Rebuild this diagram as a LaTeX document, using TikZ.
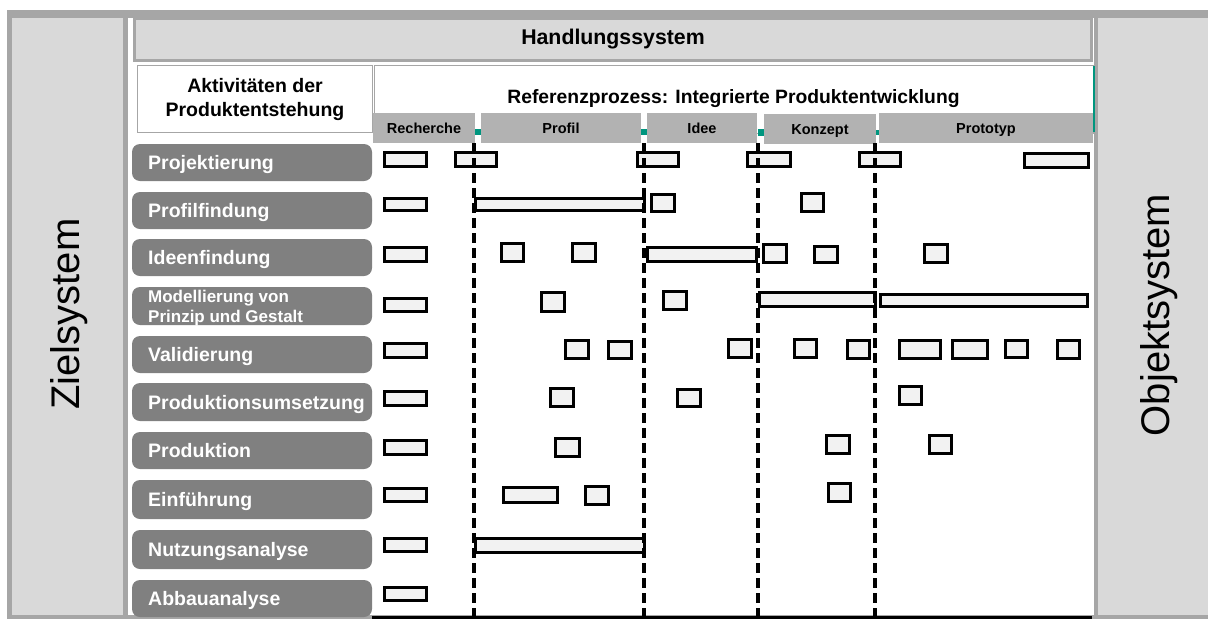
\documentclass[tikz,border=0pt]{standalone}
\usepackage{fontspec}
\setmainfont{Liberation Sans}
\definecolor{framegray}{HTML}{A6A6A6}
\definecolor{panelgray}{HTML}{D9D9D9}
\definecolor{labelgray}{HTML}{808080}
\definecolor{phasegray}{HTML}{B2B2B2}
\definecolor{boxfill}{HTML}{F2F2F2}
\definecolor{tealmark}{HTML}{00967F}
\newcommand\actbox[5]{\node[actbox, minimum width={#4-#2-2.8}, minimum height={#5-#3-2.8}] (#1) at ({(#2+#4)/2},{(#3+#5)/2}) {};}
\begin{document}
\begin{tikzpicture}[x=1pt,y=-1pt,
  actbox/.style={rectangle, draw=black, fill=boxfill, line width=2.8pt, inner sep=0pt, outer sep=0pt},
  rowbox/.style={rectangle, rounded corners=8pt, fill=labelgray, minimum width=240pt, minimum height=37pt, inner sep=0pt, outer sep=0pt},
  rowtext/.style={anchor=base west, inner sep=0pt, text=white, font=\bfseries\fontsize{19.5}{22}\selectfont},
  rowsmall/.style={anchor=base west, inner sep=0pt, text=white, font=\bfseries\fontsize{17}{20}\selectfont},
  phasebox/.style={rectangle, fill=phasegray, minimum height=30pt, inner sep=0pt, outer sep=0pt, text height=10.4pt, text depth=0pt, font=\bfseries\fontsize{14.5}{17}\selectfont},
  phaseline/.style={line width=3.4pt, dash pattern=on 10pt off 5pt},
  sidetext/.style={rotate=90, font=\fontsize{40}{48}\selectfont},
]
\useasboundingbox (0,0) rectangle (1208,619);
\fill[white] (0,0) rectangle (1208,619);

% outer frame and the three panels
\fill[framegray] (7,10) rectangle (1208,619);
\fill[panelgray] (12,18) rectangle (123,615);
\fill[white] (128,18) rectangle (1094,615);
\fill[panelgray] (1098,18) rectangle (1208,615);

% Handlungssystem bar
\node[rectangle, fill=panelgray, draw=framegray, line width=3pt, minimum width=957pt, minimum height=42pt, inner sep=0pt, outer sep=0pt,
      font=\bfseries\fontsize{21.3}{24}\selectfont] (handlung) at (613,39.5) {Handlungssystem};

% side labels
\node[sidetext] (ziel) at (69,314) {Zielsystem};
\node[sidetext] (objekt) at (1159,315) {Objektsystem};

% header boxes
\node[rectangle, draw=framegray, line width=1pt, fill=white, minimum width=235pt, minimum height=67pt, inner sep=0pt] (aktbox) at (255,99) {};
\node[align=center, font=\bfseries\fontsize{19.5}{24}\selectfont, inner sep=0pt] (akttext) at (255,99) {Aktivitäten der\\Produktentstehung};
\node[rectangle, draw=framegray, line width=1pt, fill=white, minimum width=719pt, minimum height=68pt, inner sep=0pt] (refbox) at (733.5,99) {};
\draw[tealmark, line width=2pt] (1094,66) -- (1094,132);
\node[anchor=base, inner sep=0pt, font=\bfseries\fontsize{19.3}{22}\selectfont] (reftext) at (733.5,103) {Referenzprozess: Integrierte Produktentwicklung};

% phase headers
\node[phasebox, minimum width=102pt] (recherche) at (424,128) {Recherche};
\node[phasebox, minimum width=160pt] (profil) at (561,128) {Profil};
\node[phasebox, minimum width=110pt] (idee) at (702,128) {Idee};
\node[phasebox, minimum width=112pt] (konzept) at (820,129) {Konzept};
\node[phasebox, minimum width=214pt] (prototyp) at (986,128) {Prototyp};
\fill[tealmark] (475,129) rectangle (481,135);
\fill[tealmark] (641,129) rectangle (647,135);
\fill[tealmark] (757.5,129) rectangle (764,136);
\fill[tealmark] (876,130) rectangle (879,135);

% activity labels
\node[rowbox] (r1) at (252,162.5) {};
\node[rowbox] (r2) at (252,210.5) {};
\node[rowbox] (r3) at (252,257.5) {};
\node[rowbox, minimum height=38pt] (r4) at (252,306) {};
\node[rowbox] (r5) at (252,354.5) {};
\node[rowbox, minimum height=38pt] (r6) at (252,402) {};
\node[rowbox] (r7) at (252,450.5) {};
\node[rowbox, minimum height=39pt] (r8) at (252,499.5) {};
\node[rowbox, minimum height=39pt] (r9) at (252,549.5) {};
\node[rowbox] (r10) at (252,598.5) {};
\node[rowtext] (t1) at ([xshift=16pt,yshift=-7pt]r1.west) {Projektierung};
\node[rowtext] (t2) at ([xshift=16pt,yshift=-7pt]r2.west) {Profilfindung};
\node[rowtext] (t3) at ([xshift=16pt,yshift=-7pt]r3.west) {Ideenfindung};
\node[rowsmall] (t4a) at ([xshift=16pt,yshift=4pt]r4.west) {Modellierung von};
\node[rowsmall] (t4b) at ([xshift=16pt,yshift=-16pt]r4.west) {Prinzip und Gestalt};
\node[rowtext] (t5) at ([xshift=16pt,yshift=-7pt]r5.west) {Validierung};
\node[rowtext] (t6) at ([xshift=16pt,yshift=-7pt]r6.west) {Produktionsumsetzung};
\node[rowtext] (t7) at ([xshift=16pt,yshift=-7pt]r7.west) {Produktion};
\node[rowtext] (t8) at ([xshift=16pt,yshift=-7pt]r8.west) {Einführung};
\node[rowtext] (t9) at ([xshift=16pt,yshift=-7pt]r9.west) {Nutzungsanalyse};
\node[rowtext] (t10) at ([xshift=16pt,yshift=-7pt]r10.west) {Abbauanalyse};

% activity boxes, row by row
\actbox{a1a}{383}{151}{428}{168}
\actbox{a1b}{454}{151}{498}{168}
\actbox{a1c}{636}{151}{680}{168}
\actbox{a1d}{746}{151}{792}{168}
\actbox{a1e}{858}{151}{902}{168}
\actbox{a1f}{1023}{152}{1090}{169}

\actbox{a2a}{383}{197}{428}{212}
\actbox{a2b}{474}{197}{646}{212}
\actbox{a2c}{650}{193}{676}{213}
\actbox{a2d}{800}{192}{825}{213}

\actbox{a3a}{383}{246}{428}{263}
\actbox{a3b}{500}{242}{525}{263}
\actbox{a3c}{571}{242}{597}{263}
\actbox{a3d}{646}{246}{758}{263}
\actbox{a3e}{762}{243}{788}{264}
\actbox{a3f}{813}{245}{839}{264}
\actbox{a3g}{923}{243}{949}{264}

\actbox{a4a}{383}{297}{428}{313}
\actbox{a4b}{540}{291}{566}{313}
\actbox{a4c}{662}{290}{688}{311}
\actbox{a4d}{758}{291}{877}{308}
\actbox{a4e}{879}{293}{1089}{308}

\actbox{a5a}{383}{342}{428}{359}
\actbox{a5b}{564}{339}{590}{360}
\actbox{a5c}{607}{340}{633}{360}
\actbox{a5d}{727}{338}{753}{359}
\actbox{a5e}{793}{338}{818}{359}
\actbox{a5f}{846}{339}{871}{360}
\actbox{a5g}{898}{339}{942}{360}
\actbox{a5h}{951}{339}{989}{360}
\actbox{a5i}{1004}{339}{1029}{359}
\actbox{a5j}{1056}{339}{1081}{360}

\actbox{a6a}{383}{390}{428}{407}
\actbox{a6b}{549}{387}{575}{408}
\actbox{a6c}{676}{388}{702}{408}
\actbox{a6d}{898}{385}{923}{406}

\actbox{a7a}{383}{439}{428}{456}
\actbox{a7b}{554}{437}{581}{458}
\actbox{a7c}{825}{434}{851}{455}
\actbox{a7d}{928}{434}{953}{455}

\actbox{a8a}{383}{487}{428}{503}
\actbox{a8b}{502}{486}{559}{504}
\actbox{a8c}{584}{485}{610}{506}
\actbox{a8d}{827}{482}{852}{503}

\actbox{a9a}{383}{537}{428}{553}
\actbox{a9b}{474}{537}{646}{554}

\actbox{a10a}{383}{586}{428}{602}

% phase boundaries
\coordinate (p1t) at (474,143); \coordinate (p1b) at (474,616);
\coordinate (p2t) at (644,143); \coordinate (p2b) at (644,616);
\coordinate (p3t) at (758,143); \coordinate (p3b) at (758,616);
\coordinate (p4t) at (875,143); \coordinate (p4b) at (875,616);
\draw[phaseline] (p1t) -- (p1b);
\draw[phaseline] (p2t) -- (p2b);
\draw[phaseline] (p3t) -- (p3b);
\draw[phaseline] (p4t) -- (p4b);

% base line
\coordinate (bl) at (372,617.5); \coordinate (br) at (1092,617.5);
\draw[line width=3pt] (bl) -- (br);
\end{tikzpicture}
\end{document}
